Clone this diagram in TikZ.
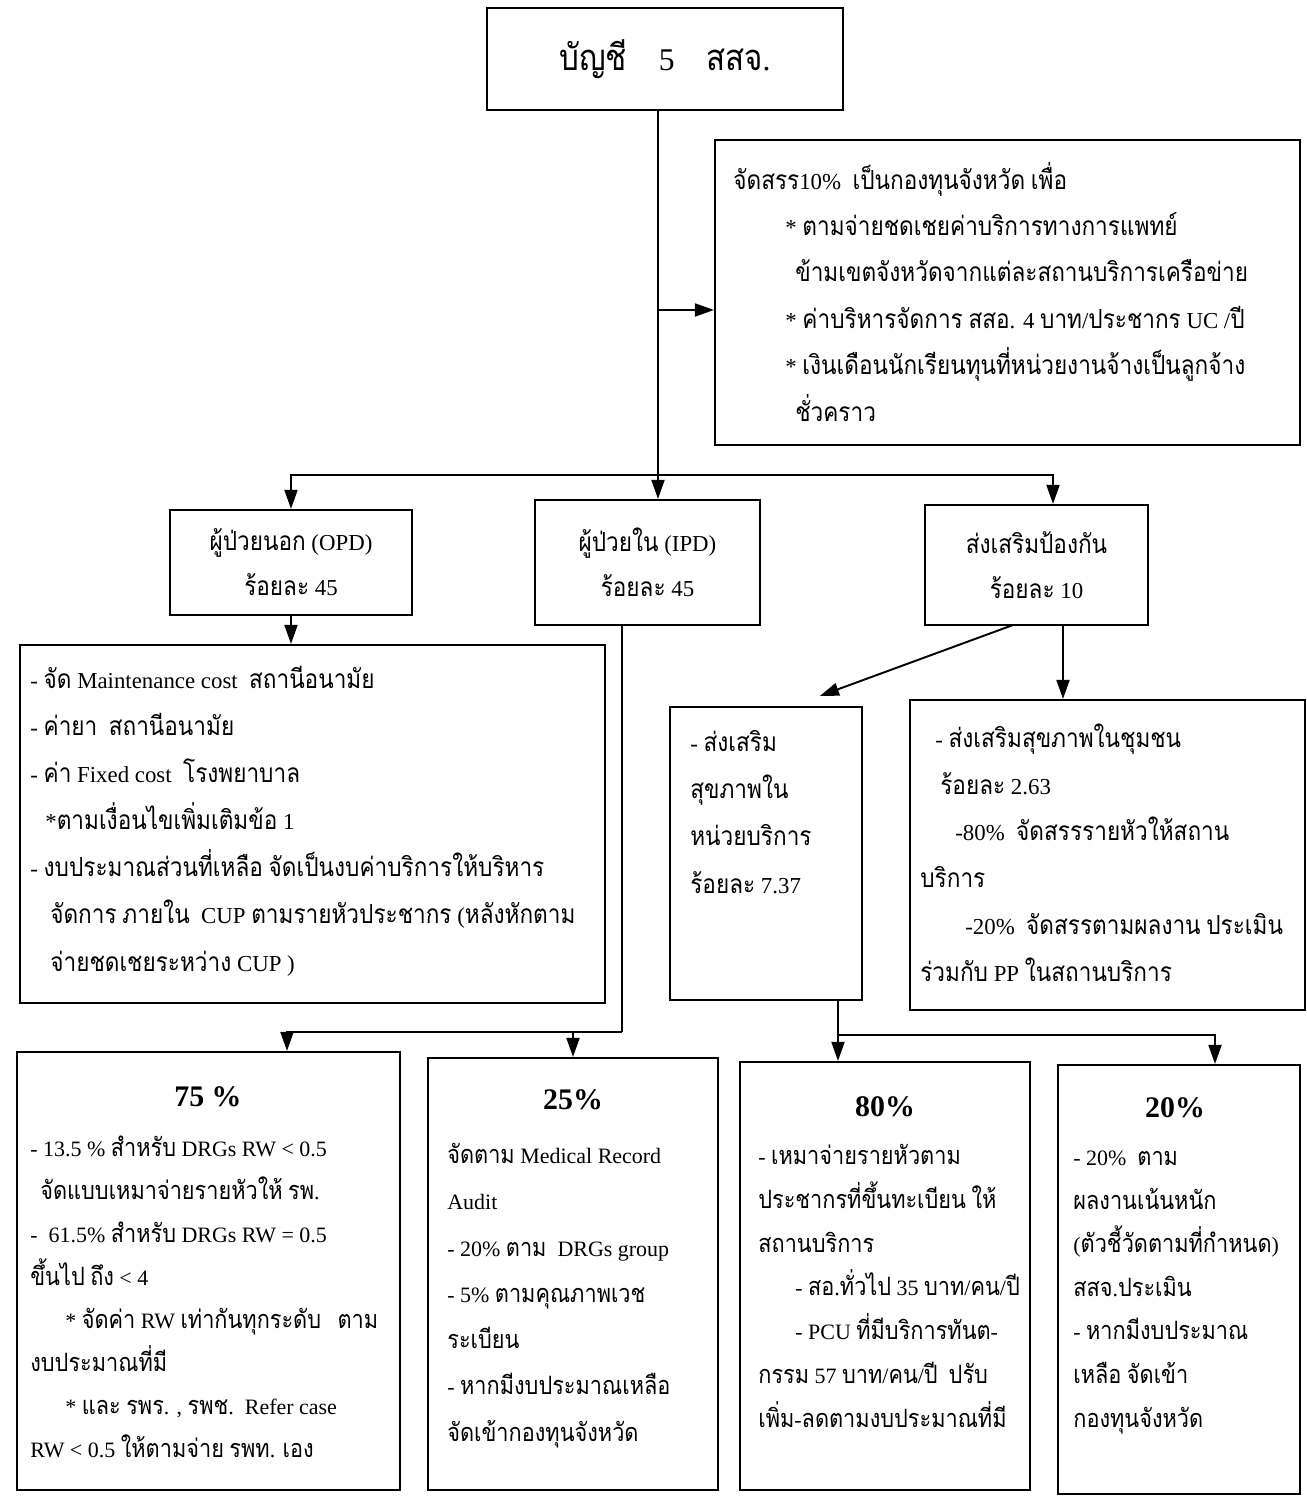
\documentclass[tikz,border=0pt]{standalone}
\usepackage{fontspec}
\setmainfont{Liberation Serif}
\newfontfamily\thaifont[Script=Thai,Scale=1.15,FakeStretch=0.86]{Loma}
\usetikzlibrary{arrows.meta}

% Thai characters switch to Loma, everything else stays in Liberation Serif
\newcount\thaicode
\thaicode="0E01
\loop
  \XeTeXcharclass\thaicode=10
  \ifnum\thaicode<"0E5B \advance\thaicode by 1 \repeat
\XeTeXinterchartoks 0 10 = {\thaifont}
\XeTeXinterchartoks 4095 10 = {\thaifont}
\XeTeXinterchartoks 10 0 = {\rmfamily}
\XeTeXinterchartoks 10 4095 = {\rmfamily}
\XeTeXinterchartokenstate=1

\newcommand{\bodysize}[1]{\fontsize{13}{#1}\selectfont}
\newcommand{\lowsize}[1]{\fontsize{12.5}{#1}\selectfont}

\begin{document}
\begin{tikzpicture}[x=0.02cm, y=-0.02cm,
    >={Triangle[length=0.38cm,width=0.26cm]},
    pbox/.style={draw, line width=1.3pt, inner sep=0pt},
    link/.style={line width=1.1pt},
    arr/.style={link, ->},
    body/.style={anchor=base west, align=left, inner sep=0pt},
    head/.style={inner sep=0pt, font=\fontsize{17}{20}\selectfont\bfseries}]
  \useasboundingbox (0,0) rectangle (1307,1497);

  % top level
  \node[pbox, minimum width=7.12cm, minimum height=2.04cm, font=\fontsize{18}{20}\selectfont] (top) at (665,59) {บัญชี\quad 5\quad สสจ.};
  \node[pbox, minimum width=11.7cm, minimum height=6.1cm] (fund) at (1007.5,292.5) {};
  % body texts sit on the baseline of their last line
  \node[body, font=\bodysize{26.4}] (fundtxt) at (733,421) {จัดสรร10\%\ \ เป็นกองทุนจังหวัด เพื่อ\\
    \hspace*{1.04cm}* ตามจ่ายชดเชยค่าบริการทางการแพทย์\\
    \hspace*{1.24cm}ข้ามเขตจังหวัดจากแต่ละสถานบริการเครือข่าย\\
    \hspace*{1.04cm}* ค่าบริหารจัดการ สสอ. 4 บาท/ประชากร UC /ปี\\
    \hspace*{1.04cm}* เงินเดือนนักเรียนทุนที่หน่วยงานจ้างเป็นลูกจ้าง\\
    \hspace*{1.24cm}ชั่วคราว};

  % three shares
  \node[pbox, minimum width=4.84cm, minimum height=2.1cm, align=center, font=\bodysize{25.6}] (opd) at (291,562.5) {ผู้ป่วยนอก (OPD)\\ร้อยละ 45};
  \node[pbox, minimum width=4.5cm, minimum height=2.5cm, align=center, font=\bodysize{25.6}] (ipd) at (647.5,562.5) {ผู้ป่วยใน (IPD)\\ร้อยละ 45};
  \node[pbox, minimum width=4.46cm, minimum height=2.4cm, align=center, font=\bodysize{25.6}] (pp) at (1036.5,565) {ส่งเสริมป้องกัน\\ร้อยละ 10};

  % OPD detail
  \node[pbox, minimum width=11.7cm, minimum height=7.16cm] (opdx) at (312.5,824) {};
  \node[body, font=\bodysize{26.8}] (opdtxt) at (30,971) {- จัด Maintenance cost\ \ สถานีอนามัย\\
    - ค่ายา\ \ สถานีอนามัย\\
    - ค่า Fixed cost\ \ โรงพยาบาล\\
    \hspace*{0.3cm}*ตามเงื่อนไขเพิ่มเติมข้อ 1\\
    - งบประมาณส่วนที่เหลือ จัดเป็นงบค่าบริการให้บริหาร\\
    \hspace*{0.4cm}จัดการ ภายใน\ \ CUP ตามรายหัวประชากร (หลังหักตาม\\
    \hspace*{0.4cm}จ่ายชดเชยระหว่าง CUP )};

  % PP detail
  \node[pbox, minimum width=3.84cm, minimum height=5.86cm] (unit) at (766,853.5) {};
  \node[body, font=\bodysize{26.8}] (unittxt) at (690,893) {- ส่งเสริม\\สุขภาพใน\\หน่วยบริการ\\ร้อยละ 7.37};
  \node[pbox, minimum width=7.9cm, minimum height=6.2cm] (comm) at (1107.5,855) {};
  \node[body, font=\bodysize{26.6}] (commtxt) at (920,981) {\hspace*{0.3cm}- ส่งเสริมสุขภาพในชุมชน\\
    \hspace*{0.4cm}ร้อยละ 2.63\\
    \hspace*{0.7cm}-80\%\ \ จัดสรรรายหัวให้สถาน\\
    บริการ\\
    \hspace*{0.9cm}-20\%\ \ จัดสรรตามผลงาน ประเมิน\\
    ร่วมกับ PP ในสถานบริการ};

  % bottom row
  \node[pbox, minimum width=7.66cm, minimum height=8.76cm] (b75) at (208.5,1271) {};
  \node[head] (t75) at (208,1097) {75 \%};
  \node[body, font=\lowsize{24.4}] (txt75) at (30,1457) {- 13.5 \% สำหรับ DRGs RW < 0.5\\
    \hspace*{0.2cm}จัดแบบเหมาจ่ายรายหัวให้ รพ.\\
    -\ \ 61.5\% สำหรับ DRGs RW = 0.5\\
    ขึ้นไป ถึง < 4\\
    \hspace*{0.7cm}* จัดค่า RW เท่ากันทุกระดับ\ \ \ ตาม\\
    งบประมาณที่มี\\
    \hspace*{0.7cm}* และ รพร. , รพช.\ \ Refer case\\
    RW < 0.5 ให้ตามจ่าย รพท. เอง};

  \node[pbox, minimum width=5.8cm, minimum height=8.64cm] (b25) at (573,1274) {};
  \node[head] (t25) at (573,1100) {25\%};
  \node[body, font=\lowsize{26.3}] (txt25) at (447,1441) {จัดตาม Medical Record\\
    Audit\\
    - 20\% ตาม\ \ DRGs group\\
    - 5\% ตามคุณภาพเวช\\
    ระเบียน\\
    - หากมีงบประมาณเหลือ\\
    จัดเข้ากองทุนจังหวัด};

  \node[pbox, minimum width=5.8cm, minimum height=8.56cm] (b80) at (885,1276) {};
  \node[head] (t80) at (885,1107) {80\%};
  \node[body, font=\lowsize{24.9}] (txt80) at (758,1427) {- เหมาจ่ายรายหัวตาม\\
    ประชากรที่ขึ้นทะเบียน ให้\\
    สถานบริการ\\
    \hspace*{0.74cm}- สอ.ทั่วไป 35 บาท/คน/ปี\\
    \hspace*{0.74cm}- PCU ที่มีบริการทันต-\\
    กรรม 57 บาท/คน/ปี\ \ ปรับ\\
    เพิ่ม-ลดตามงบประมาณที่มี};

  \node[pbox, minimum width=4.84cm, minimum height=8.58cm] (b20) at (1179,1279.5) {};
  \node[head] (t20) at (1175,1108) {20\%};
  \node[body, font=\lowsize{24.8}] (txt20) at (1073,1427) {- 20\%\ \ ตาม\\
    ผลงานเน้นหนัก\\
    (ตัวชี้วัดตามที่กำหนด)\\
    สสจ.ประเมิน\\
    - หากมีงบประมาณ\\
    เหลือ จัดเข้า\\
    กองทุนจังหวัด};

  % connectors
  \coordinate (trunk) at (658,110);
  \coordinate (fundin) at (658,310);
  \coordinate (split) at (658,475);
  \draw[arr] (trunk) -- (trunk |- ipd.north);
  \draw[arr] (fundin) -- (fundin -| fund.west);
  \draw[arr] (split) -| (opd.north);
  \draw[arr] (split) -| ([xshift=0.33cm]pp.north);
  \draw[arr] (opd.south) -- (opd.south |- opdx.north);

  \coordinate (ipdturn) at (622,1032);
  \draw[link] (ipdturn |- ipd.south) -- (ipdturn);
  \draw[arr] (ipdturn) -| ([xshift=1.57cm]b75.north);
  \draw[arr] (ipdturn -| b25.north) -- (b25.north);

  \coordinate (ppdiag) at (1013,625);
  \coordinate (ppdown) at (1063,625);
  \draw[arr] (ppdiag) -- ([xshift=1.08cm,yshift=0.2cm]unit.north);
  \draw[arr] (ppdown) -- (ppdown |- comm.north);

  \coordinate (unitturn) at (838,1035);
  \draw[arr] (unitturn |- unit.south) -- (unitturn |- b80.north);
  \draw[arr] (unitturn) -| ([xshift=0.72cm]b20.north);
\end{tikzpicture}
\end{document}
